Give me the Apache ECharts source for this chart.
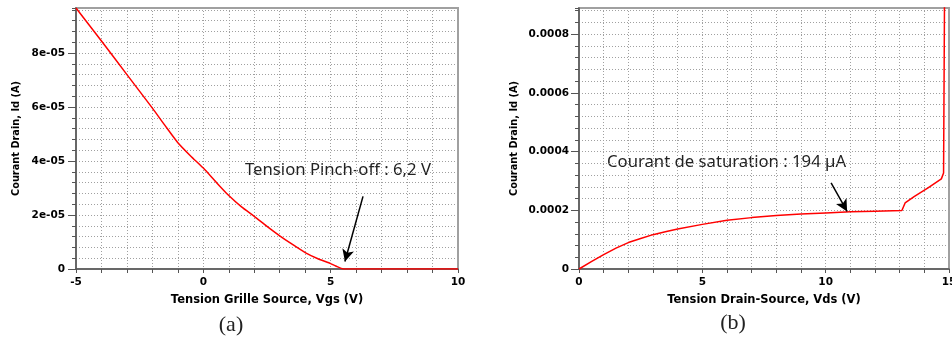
<!DOCTYPE html>
<html><head><meta charset="utf-8">
<script src="https://cdn.jsdelivr.net/npm/echarts@6/dist/echarts.min.js"></script>
<style>html,body{margin:0;padding:0;background:#fff}#c{width:952px;height:342px}</style>
</head><body><div id="c"></div>
<script>
// Chart (a): Id vs Vgs
const vgs = [-5,-4,-3,-2,-1.5,-1,-0.5,0,0.5,1,1.5,2,2.5,3,3.5,4,4.5,5,5.2,5.5,6,7,8,9,10];
const idA = [9.67e-5,8.45e-5,7.2e-5,5.96e-5,5.31e-5,4.68e-5,4.19e-5,3.74e-5,3.22e-5,2.72e-5,2.3e-5,1.95e-5,1.58e-5,1.23e-5,9.1e-6,6.1e-6,3.8e-6,2.0e-6,1.1e-6,0,0,0,0,0,0];
// Chart (b): Id vs Vds
const vds = [0,0.5,1,1.5,2,2.5,3,3.5,4,5,6,7,8,9,10,11,12,13.09,13.22,13.6,14.15,14.69,14.78,14.82,14.82];
const idB = [0,2.5e-5,4.9e-5,7.1e-5,9.0e-5,1.04e-4,1.17e-4,1.27e-4,1.36e-4,1.52e-4,1.66e-4,1.75e-4,1.82e-4,1.87e-4,1.91e-4,1.95e-4,1.97e-4,1.99e-4,2.25e-4,2.47e-4,2.76e-4,3.07e-4,3.27e-4,3.32e-4,9.5e-4];
const yTicksA = [0,2e-5,4e-5,6e-5,8e-5];
const yTicksB = [0,2e-4,4e-4,6e-4,8e-4];
const arrowA = [[6.27,2.69e-5],[5.56,2.8e-6]];
const arrowB = [[10.22,2.93e-4],[10.87,1.96e-4]];

const lblFont = {fontFamily:'DejaVu Sans',fontWeight:'bold',fontSize:10.5,color:'#000'};
const nameFont = {fontFamily:'DejaVu Sans',fontWeight:'bold',fontSize:11.5,color:'#000'};
const yNameFont = {fontFamily:'DejaVu Sans',fontWeight:'bold',fontSize:9.8,color:'#000'};
const gridLine = {show:true,lineStyle:{color:'#a0a0a0',width:1,type:[1,2]}};
const axLine = {show:true,onZero:false,lineStyle:{color:'#555',width:1.5}};

function xAx(gi,min,max,name){
  return {type:'value',gridIndex:gi,min:min,max:max,interval:1,position:'bottom',
    name:name,nameLocation:'middle',nameGap:25,nameTextStyle:nameFont,
    axisLine:axLine,axisTick:{show:true,length:4,lineStyle:{color:'#555',width:1}},
    axisLabel:Object.assign({margin:8,formatter:v=>(Math.round(v)%5===0?String(Math.round(v)):'')},lblFont),
    splitLine:gridLine};
}
function yMinor(gi,max,iv){
  return {type:'value',gridIndex:gi,min:0,max:max,interval:iv,position:'left',
    axisLine:axLine,axisTick:{show:true,length:4,lineStyle:{color:'#555',width:1}},
    axisLabel:{show:false},splitLine:gridLine};
}
function yMajor(gi,max,iv,ticks,fmt,margin,name,gap){
  return {type:'value',gridIndex:gi,min:0,max:max,interval:iv,position:'left',
    name:name,nameLocation:'middle',nameGap:gap,nameRotate:90,nameTextStyle:yNameFont,
    axisLine:{show:false,onZero:false},
    axisTick:{show:true,length:8,customValues:ticks,lineStyle:{color:'#555',width:1}},
    axisLabel:Object.assign({margin:margin,customValues:ticks,formatter:fmt},lblFont),
    splitLine:{show:false}};
}
const fmtA = v=>{ if(v===0) return '0'; return Number(v).toExponential(0).replace(/e-(\d)$/,'e-0$1'); };
const fmtB = v=>{ if(v===0) return '0'; return Number(v).toFixed(4); };

const chart = echarts.init(document.getElementById('c'));
chart.setOption({
  backgroundColor:'#fff',
  animation:false,
  grid:[
    {left:76,top:8,width:382,height:261,outerBoundsMode:'none',containLabel:false,show:true,borderColor:'#a0a0a0',borderWidth:2,backgroundColor:'transparent'},
    {left:579,top:8,width:370,height:261,outerBoundsMode:'none',containLabel:false,show:true,borderColor:'#a0a0a0',borderWidth:2,backgroundColor:'transparent'}
  ],
  xAxis:[xAx(0,-5,10,'Tension Grille Source, Vgs (V)'), xAx(1,0,15,'Tension Drain-Source, Vds (V)')],
  yAxis:[
    yMinor(0,9.67e-5,4e-6),
    yMajor(0,9.67e-5,2e-5,yTicksA,fmtA,11,'Courant Drain, Id (A)',55),
    yMinor(1,8.89e-4,4e-5),
    yMajor(1,8.89e-4,2e-4,yTicksB,fmtB,10,'Courant Drain, Id (A)',59.5)
  ],
  series:[
    {type:'line',xAxisIndex:0,yAxisIndex:0,data:vgs.map((x,i)=>[x,idA[i]]),showSymbol:false,
     smooth:0.2,
     lineStyle:{color:'#ff0000',width:1.5},clip:true,
     markLine:{silent:true,symbol:['none','arrow'],symbolSize:[9,12],label:{show:false},
       lineStyle:{color:'#000',width:1.5,type:'solid'},
       data:[[{coord:arrowA[0]},{coord:arrowA[1]}]]}},
    {type:'line',xAxisIndex:1,yAxisIndex:2,data:vds.map((x,i)=>[x,idB[i]]),showSymbol:false,
     lineStyle:{color:'#ff0000',width:1.5},clip:true,
     markLine:{silent:true,symbol:['none','arrow'],symbolSize:[9,12],label:{show:false},
       lineStyle:{color:'#000',width:1.5,type:'solid'},
       data:[[{coord:arrowB[0]},{coord:arrowB[1]}]]}}
  ],
  graphic:[
    {type:'text',x:245,y:170,style:{text:'Tension Pinch-off : 6,2 V',font:'16.7px "Noto Sans"',fill:'#222',verticalAlign:'middle'}},
    {type:'text',x:607,y:162,style:{text:'Courant de saturation : 194 µA',font:'16.7px "Noto Sans"',fill:'#222',verticalAlign:'middle'}},
    {type:'text',x:231,y:325,style:{text:'(a)',font:'22px "Liberation Serif"',fill:'#222',align:'center',verticalAlign:'middle'}},
    {type:'text',x:733,y:323,style:{text:'(b)',font:'22px "Liberation Serif"',fill:'#222',align:'center',verticalAlign:'middle'}}
  ]
});
</script></body></html>
